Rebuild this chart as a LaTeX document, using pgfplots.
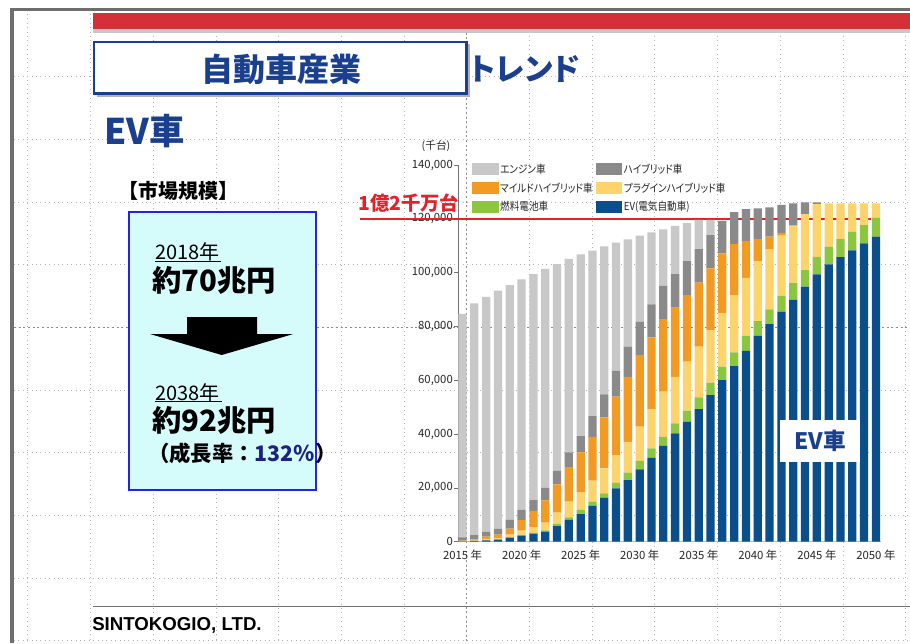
\documentclass[border=0pt]{standalone}
\usepackage{pgfplots}
\pgfplotsset{compat=1.18}
\usepackage{pgfplotstable}
\usepackage{graphicx}
\usepackage{fontspec}
\setmainfont{Noto Sans CJK JP}
\newfontfamily\jpp{Noto Sans CJK JP}[RawFeature=+palt]
\newfontfamily\arialf{Liberation Sans}

\definecolor{engc}{HTML}{C8C8C8}
\definecolor{hvc}{HTML}{8A8A8A}
\definecolor{mhvc}{HTML}{F29A21}
\definecolor{phvc}{HTML}{FDD46B}
\definecolor{fcc}{HTML}{8CC63F}
\definecolor{evc}{HTML}{0A4E8C}
\definecolor{titleblue}{HTML}{1B3F8F}
\definecolor{slidered}{HTML}{D3303A}
\definecolor{boxcyan}{HTML}{D6FBFB}
\definecolor{boxblue}{HTML}{2323E6}
\definecolor{gridc}{HTML}{B4B4B4}
\definecolor{framegray}{HTML}{6E6E6E}
\definecolor{linered}{HTML}{E3222B}
\definecolor{navy}{HTML}{1A237E}

\pgfplotsset{swatch/.style={legend image code/.code={\fill[##1] (0pt,-4.4pt) rectangle (20pt,4.4pt);}}}
\newcommand{\lgd}[1]{\scalebox{0.87}[1]{#1}}

\pgfplotstableread{
year ev fc phv mhv hv eng
2015 100 0 100 200 1200 83100
2016 300 0 300 300 1600 86100
2017 500 0 600 800 1800 87300
2018 800 100 500 1200 2200 88500
2019 1500 100 1000 2300 3300 87200
2020 2300 200 1600 4000 3700 85700
2021 3000 300 2000 6200 4000 84000
2022 3800 400 2900 8300 4600 81400
2023 5800 800 4200 10500 5100 76800
2024 8100 1000 5800 12800 5500 71900
2025 10300 1500 6600 14800 6100 67500
2026 13300 1600 7800 16300 7700 61500
2027 16400 1600 9300 18900 8600 55000
2028 19800 2100 10300 21700 9700 47600
2029 22900 2800 11200 24400 11200 39900
2030 26900 3200 12700 26600 12400 32000
2031 31200 3500 14500 26800 12200 26800
2032 35600 3400 16800 26900 12400 21000
2033 40300 3700 17300 25700 12500 17900
2034 44600 4100 18200 24800 12600 14100
2035 49300 4400 18800 23800 12500 10800
2036 54500 4600 19600 22900 12400 5600
2037 60100 5000 19800 22300 12100 0
2038 65300 5100 21300 18900 11900 0
2039 70900 5600 21600 13700 11800 0
2040 76500 5500 22300 8200 11400 0
2041 80900 5500 22300 4700 10900 0
2042 85500 5900 22400 1000 10400 0
2043 89900 6200 21400 0 8300 0
2044 94800 6200 20800 0 4300 0
2045 99400 6500 19600 0 600 0
2046 103100 6600 16100 0 0 0
2047 105800 6700 13300 0 0 0
2048 108300 6900 10600 0 0 0
2049 110900 6800 8100 0 0 0
2050 113400 7000 5400 0 0 0
}\evdata

\begin{document}
\begin{tikzpicture}
\begin{scope}[x=0.75pt,y=-0.75pt]
  \path[use as bounding box] (0,0) rectangle (910,643);
  \fill[white] (0,0) rectangle (910,643);
  % dotted guide grid
  \foreach \gx in {27.8,90.5,153.2,215.9,278.6,341.3,404.0,529.4,592.1,654.8,717.5,780.2,842.9,905.6}
    \draw[gridc, line width=0.6pt, dash pattern=on 0.7pt off 2.6pt] (\gx,14) -- (\gx,643);
  \foreach \gy in {76.7,139.4,202.0,264.7,390.0,452.7,515.3,578.0,640.7}
    \draw[gridc, line width=0.6pt, dash pattern=on 0.7pt off 2.6pt] (14,\gy) -- (910,\gy);
  \draw[black!45, line width=0.6pt, dash pattern=on 1.5pt off 2pt] (466.7,14) -- (466.7,643);
  \draw[black!45, line width=0.6pt, dash pattern=on 1.5pt off 2pt] (14,327.3) -- (910,327.3);
  % frame and header band
  \fill[framegray] (9.5,8) rectangle (910,11);
  \fill[framegray] (9.5,8) rectangle (13.5,643);
  \fill[slidered] (93,13.3) rectangle (910,29.3);
  \fill[black!22] (93,29.3) rectangle (910,32.5);
  % title box
  \draw[black!30, line width=1.5pt] (96.5,95.8) -- (468.8,95.8) -- (468.8,44);
  \fill[white] (94,42) rectangle (466.5,93.5);
  \draw[titleblue, line width=1.8pt] (94,42) rectangle (466.5,93.5);
  \node[text=titleblue, font=\fontsize{24}{28}\bfseries\selectfont] at (281.7,69) {自動車産業};
  \node[text=titleblue, font=\jpp\fontsize{23}{27}\bfseries\selectfont, anchor=west, inner sep=0pt] at (470,69) {トレンド};
  \node[text=titleblue, font=\fontsize{26.5}{30}\bfseries\selectfont, anchor=west, inner sep=0pt] at (104,131) {EV車};
  % left panel
  \node[font=\fontsize{15}{18}\bfseries\selectfont, anchor=west, inner sep=0pt] at (118,191) {【市場規模】};
  \filldraw[fill=boxcyan, draw=boxblue, line width=1.4pt] (129.3,211.7) rectangle (316,490);
  \node[font=\fontsize{15}{18}\selectfont, anchor=west, inner sep=0pt] at (155,252) {2018年};
  \draw[line width=0.8pt] (155,261.5) -- (221,261.5);
  \node[font=\fontsize{22}{25}\bfseries\selectfont, anchor=west, inner sep=0pt] at (152,280) {約70兆円};
  \fill[black] (187,317) -- (257,317) -- (257,334) -- (293.3,334) -- (221.7,355) -- (150,334) -- (187,334) -- cycle;
  \node[font=\fontsize{15}{18}\selectfont, anchor=west, inner sep=0pt] at (155,392.5) {2038年};
  \draw[line width=0.8pt] (155,401.5) -- (222,401.5);
  \node[font=\fontsize{22}{25}\bfseries\selectfont, anchor=west, inner sep=0pt] at (152,420.5) {約92兆円};
  \node[font=\fontsize{16}{19}\bfseries\selectfont, anchor=west, inner sep=0pt] at (148,453) {（成長率：\textcolor{navy}{132％}）};
  % footer
  \draw[black!55, line width=0.8pt] (93,606.7) -- (910,606.7);
  \node[font=\arialf\bfseries\fontsize{14}{16}\selectfont, anchor=west, inner sep=0pt] at (92,625) {SINTOKOGIO, LTD.};
  % chart unit label and red threshold label
  \node[font=\fontsize{8}{10}\selectfont, text=black!85] at (436,146) {(千台)};
  \node[font=\fontsize{14.5}{17}\bfseries\selectfont, text=linered, anchor=west, inner sep=0pt] at (358,203) {1億2千万台};
\end{scope}

\begin{axis}[
  at={(343.8pt,-406.3pt)}, anchor=south west,
  scale only axis, width=316.65pt, height=282.5pt,
  xmin=2014.65, xmax=2050.4, ymin=0, ymax=140000,
  ybar stacked, bar width=0.7,
  axis x line*=bottom, axis y line*=left,
  x axis line style={draw=black!25},
  y axis line style={draw=black!55},
  xtick={2015,2020,2025,2030,2035,2040,2045,2050},
  xticklabels={2015 年,2020 年,2025 年,2030 年,2035 年,2040 年,2045 年,2050 年},
  xtick style={draw=none},
  ytick={0,20000,40000,60000,80000,100000,120000,140000},
  ytick style={draw=black!55, line width=0.5pt},
  tick align=outside, major tick length=3pt,
  scaled y ticks=false,
  yticklabel style={/pgf/number format/fixed, /pgf/number format/1000 sep={,}, /pgf/number format/assume math mode=true, inner sep=1pt},
  tick label style={font=\fontsize{8.5}{10}\selectfont, text=black!85},
  xticklabel style={inner sep=1pt, yshift=-2pt},
  clip=false,
  legend columns=2, reverse legend,
  legend cell align=left,
  legend style={at={(0.0315,1.0088)}, anchor=north west, draw=none, fill=none, inner sep=0pt,
    font=\jpp\fontsize{8.3}{10}\selectfont, text=black!85,
    /tikz/every even column/.append style={column sep=1pt}, row sep=3.2pt,
    nodes={inner sep=1.2pt}},
]
\addplot[fill=evc, draw=none, swatch] table[x=year,y=ev]{\evdata};
\addlegendentry{\lgd{EV(電気自動車)}}
\addplot[fill=fcc, draw=none, swatch] table[x=year,y=fc]{\evdata};
\addlegendentry{\lgd{燃料電池車}}
\addplot[fill=phvc, draw=none, swatch] table[x=year,y=phv]{\evdata};
\addlegendentry{\lgd{プラグインハイブリッド車}}
\addplot[fill=mhvc, draw=none, swatch] table[x=year,y=mhv]{\evdata};
\addlegendentry{\lgd{マイルドハイブリッド車}}
\addplot[fill=hvc, draw=none, swatch] table[x=year,y=hv]{\evdata};
\addlegendentry{\lgd{ハイブリッド車}}
\addplot[fill=engc, draw=none, swatch] table[x=year,y=eng]{\evdata};
\addlegendentry{\lgd{エンジン車}}
\draw[linered, line width=1.9pt] (axis cs:2006.3,120000) -- (axis cs:2049.6,120000);
\end{axis}

\begin{scope}[x=0.75pt,y=-0.75pt]
  \node[fill=white, text=titleblue, font=\fontsize{17}{20}\bfseries\selectfont, minimum width=60pt, minimum height=31.5pt, inner sep=0pt] at (820,441) {EV車};
\end{scope}
\end{tikzpicture}
\end{document}
